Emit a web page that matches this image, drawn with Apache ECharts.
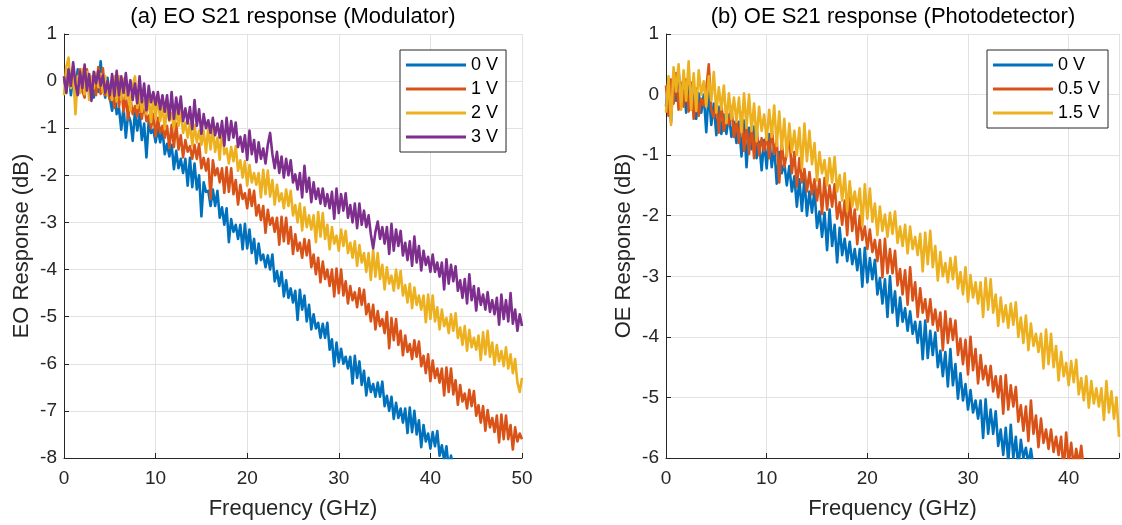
<!DOCTYPE html>
<html>
<head>
<meta charset="utf-8">
<script src="https://cdn.jsdelivr.net/npm/echarts@6/dist/echarts.min.js"></script>
<style>
html,body{margin:0;padding:0;background:#fff;}
#chart{width:1122px;height:525px;}
</style>
</head>
<body>
<div id="chart"></div>
<script>
// Frequency sampling step (GHz) of every trace
const FREQ_STEP = 0.25;

// Tick values
const eoXTicks = [0, 10, 20, 30, 40, 50];
const eoYTicks = [1, 0, -1, -2, -3, -4, -5, -6, -7, -8];
const oeXTicks = [0, 10, 20, 30, 40];
const oeYTicks = [1, 0, -1, -2, -3, -4, -5, -6];

// (a) EO S21 response (Modulator), dB, from 0 GHz every 0.25 GHz
const eoNames = ['0 V', '1 V', '2 V', '3 V'];
const eo0V = [0.05,-0.2,0.25,-0.3,0.1,-0.15,0.25,-0.25,0.1,
-0.2,0.1,-0.2,0.03,-0.35,0.15,-0.23,0.42,
-0.1,-0.35,0.07,-0.35,-0.63,-0.2,-0.7,-0.57,
-1.03,-0.55,-1.2,-0.7,-0.85,-1.27,-0.63,-1.05,
-0.7,-1.25,-0.9,-1.62,-0.85,-1.1,-1.03,-1.3,
-1.0,-1.3,-1.03,-1.55,-1.33,-1.6,-1.35,-1.87,
-1.48,-1.85,-1.65,-1.95,-1.65,-2.22,-1.63,-2.25,
-1.75,-2.3,-2.0,-2.87,-2.15,-2.35,-2.33,-2.65,
-2.3,-2.65,-2.33,-2.9,-2.68,-3.05,-2.7,-3.42,
-2.93,-3.2,-3.05,-3.35,-3.05,-3.57,-3.03,-3.55,
-3.15,-3.65,-3.35,-3.87,-3.45,-3.8,-3.68,-3.95,
-3.7,-4.0,-3.68,-4.25,-4.03,-4.35,-4.05,-4.57,
-4.23,-4.6,-4.4,-4.7,-4.45,-5.07,-4.43,-4.85,
-4.55,-5.1,-4.75,-5.27,-4.95,-5.25,-5.13,-5.45,
-5.15,-5.45,-5.13,-5.7,-5.48,-6.05,-5.55,-5.97,
-5.68,-6.0,-5.85,-6.1,-5.85,-6.42,-5.83,-6.3,
-5.95,-6.45,-6.15,-6.67,-6.3,-6.6,-6.43,-6.7,
-6.4,-6.7,-6.38,-6.9,-6.68,-7.0,-6.7,-7.17,
-6.83,-7.15,-6.95,-7.25,-6.95,-7.47,-6.93,-7.45,
-7.0,-7.5,-7.2,-7.77,-7.3,-7.65,-7.48,-7.8,
-7.45,-7.75,-7.43,-7.95,-7.73,-8.05,-7.75,-8.22,
-7.95,-8.2];
const eo1V = [0.1,-0.25,0.2,-0.1,0.3,-0.3,0.05,0.25,-0.2,
-0.35,0.25,-0.13,0.05,0.12,-0.3,0.3,-0.27,
0.27,-0.3,-0.15,-0.4,0.0,-0.57,-0.08,-0.55,
-0.1,-0.65,-0.3,-0.82,-0.35,-0.7,-0.53,-0.75,
-0.45,-0.8,-0.43,-0.85,-0.73,-1.0,-0.7,-1.17,
-0.78,-1.1,-0.95,-1.2,-0.95,-1.42,-0.93,-1.4,
-0.9,-1.45,-1.15,-1.62,-1.25,-1.5,-1.38,-1.65,
-1.35,-1.65,-1.33,-1.85,-1.63,-1.9,-1.65,-2.5,
-1.68,-2.0,-1.85,-2.15,-1.85,-2.37,-1.83,-2.35,
-1.85,-2.4,-2.1,-2.62,-2.2,-2.5,-2.38,-2.7,
-2.3,-2.65,-2.33,-2.85,-2.63,-2.95,-2.65,-3.22,
-2.73,-3.05,-2.9,-3.2,-2.9,-3.47,-2.88,-3.4,
-2.9,-3.45,-3.1,-3.67,-3.25,-3.6,-3.43,-3.75,
-3.35,-3.7,-3.38,-3.95,-3.68,-4.1,-3.75,-4.27,
-3.83,-4.2,-4.0,-4.35,-4.0,-4.57,-3.98,-4.5,
-4.0,-4.55,-4.25,-4.72,-4.35,-4.65,-4.48,-4.8,
-4.4,-4.75,-4.43,-4.95,-4.73,-5.1,-4.75,-5.27,
-4.88,-5.2,-5.05,-5.35,-4.9,-5.67,-5.03,-5.5,
-5.05,-5.6,-5.3,-5.82,-5.4,-5.75,-5.58,-5.9,
-5.5,-5.85,-5.53,-6.05,-5.83,-6.2,-5.8,-6.37,
-5.93,-6.3,-6.1,-6.4,-6.1,-6.67,-6.08,-6.6,
-6.1,-6.65,-6.35,-6.87,-6.45,-6.8,-6.63,-6.95,
-6.55,-6.9,-6.58,-7.1,-6.88,-7.25,-6.9,-7.42,
-6.98,-7.35,-7.15,-7.45,-7.1,-7.67,-7.08,-7.6,
-7.1,-7.6,-7.3,-7.82,-7.35,-7.65,-7.48,-7.6];
const eo2V = [-0.3,0.3,0.5,-0.15,0.2,-0.7,0.1,-0.25,0.25,
-0.28,0.2,-0.4,0.1,-0.15,0.18,-0.13,0.15,
-0.25,0.1,-0.3,-0.07,-0.4,0.1,-0.43,0.1,
-0.4,0.05,-0.38,-0.15,-0.63,-0.1,0.1,-0.57,
-0.28,-0.65,-0.4,-0.7,-0.35,-0.87,-0.28,-0.8,
-0.3,-0.85,-0.5,-1.02,-0.55,-0.85,-0.68,-1.0,
-0.6,-0.95,-0.63,-1.1,-0.88,-1.2,-0.9,-1.37,
-0.93,-1.3,-1.05,-1.35,-1.05,-1.52,-0.98,-1.45,
-1.0,-1.5,-1.2,-1.67,-0.95,-1.55,-1.43,-1.75,
-1.4,-1.7,-1.38,-1.9,-1.68,-2.05,-1.7,-2.22,
-1.78,-2.15,-1.95,-2.2,-1.95,-2.47,-1.88,-2.4,
-1.9,-2.45,-2.1,-2.62,-2.2,-2.55,-2.38,-2.7,
-2.3,-2.65,-2.33,-2.85,-2.63,-3.0,-2.6,-3.17,
-2.68,-3.1,-2.85,-3.15,-2.85,-3.42,-2.78,-3.3,
-2.8,-3.35,-3.05,-3.57,-3.1,-3.45,-3.28,-3.6,
-3.15,-3.5,-3.18,-3.65,-3.43,-3.75,-3.4,-3.92,
-3.48,-3.85,-3.65,-4.05,-3.65,-4.22,-3.58,-4.15,
-3.65,-4.2,-3.9,-4.42,-3.95,-4.3,-4.13,-4.45,
-4.0,-4.4,-4.03,-4.55,-4.33,-4.7,-4.3,-4.82,
-4.38,-4.75,-4.55,-4.85,-4.55,-5.12,-4.53,-5.05,
-4.55,-5.1,-4.8,-5.27,-4.85,-5.2,-5.03,-5.35,
-4.95,-5.3,-4.93,-5.45,-5.23,-5.6,-5.2,-5.72,
-5.28,-5.65,-5.45,-5.7,-5.4,-5.92,-5.33,-5.8,
-5.3,-5.85,-5.55,-6.02,-5.6,-5.95,-5.73,-6.05,
-5.65,-6.1,-5.8,-6.2,-5.9,-6.4,-6.6,-6.3];
const eo3V = [0.1,-0.25,0.25,-0.1,0.4,-0.05,-0.3,0.2,-0.15,
0.35,-0.2,0.15,-0.42,0.2,-0.05,0.22,-0.1,
0.12,-0.25,0.0,-0.3,0.15,-0.32,0.22,-0.3,
0.1,-0.25,0.17,-0.3,0.02,-0.4,-0.05,-0.47,
0.1,-0.45,-0.05,-0.62,-0.1,-0.45,-0.23,-0.5,
-0.23,-0.6,-0.3,-0.65,-0.3,-0.82,-0.23,-0.8,
-0.35,-0.7,-0.33,-0.85,-0.58,-0.9,-0.55,-1.02,
-0.4,-0.95,-0.6,-1.12,-0.7,-1.0,-0.83,-1.1,
-0.78,-1.15,-0.9,-1.2,-0.85,-1.37,-0.78,-1.25,
-0.85,-1.2,-0.88,-1.4,-1.18,-1.5,-1.15,-1.67,
-1.05,-1.55,-1.25,-1.72,-1.3,-1.65,-1.43,-1.75,
-1.35,-1.1,-1.55,-1.85,-1.5,-1.95,-1.6,-2.05,
-1.65,-2.0,-1.68,-2.15,-1.98,-2.3,-1.95,-2.47,
-1.8,-2.35,-2.05,-2.57,-2.15,-2.5,-2.28,-2.6,
-2.28,-2.65,-2.4,-2.7,-2.35,-2.92,-2.28,-2.8,
-2.4,-2.75,-2.38,-2.9,-2.63,-3.0,-2.6,-3.12,
-2.6,-3.05,-2.75,-3.1,-2.85,-3.25,-3.55,-3.2,
-2.98,-3.35,-3.1,-3.45,-3.1,-3.67,-3.03,-3.6,
-3.15,-3.5,-3.18,-3.7,-3.43,-3.8,-3.4,-3.92,
-3.3,-3.85,-3.5,-4.02,-3.6,-3.9,-3.73,-4.05,
-3.68,-4.05,-3.85,-4.15,-3.85,-4.42,-3.78,-4.3,
-3.9,-4.25,-3.93,-4.45,-4.23,-4.6,-4.2,-4.72,
-4.1,-4.65,-4.35,-4.87,-4.4,-4.75,-4.53,-4.85,
-4.48,-4.9,-4.65,-4.95,-4.6,-5.17,-4.53,-5.05,
-4.65,-5.1,-4.5,-5.15,-4.85,-5.3,-4.95,-5.2];

// (b) OE S21 response (Photodetector), dB, from 0 GHz every 0.25 GHz
const oeNames = ['0 V', '0.5 V', '1.5 V'];
const oe0V = [-0.2,0.25,-0.45,0.35,-0.1,0.4,-0.2,0.25,-0.3,
0.15,-0.25,0.17,-0.4,0.02,-0.3,0.0,-0.62,
0.05,-0.5,-0.15,-0.67,-0.2,-0.65,-0.33,-0.65,
-0.33,-0.7,-0.45,-0.8,-0.45,-1.02,-0.43,-1.2,
-0.55,-0.9,-0.53,-1.05,-0.78,-1.25,-0.75,-1.22,
-0.65,-1.2,-0.85,-1.47,-0.95,-1.3,-1.13,-1.5,
-1.18,-1.6,-1.35,-1.85,-1.4,-1.92,-1.38,-2.0,
-1.6,-1.95,-1.58,-2.2,-1.93,-2.35,-1.95,-2.57,
-1.9,-2.5,-2.15,-2.77,-2.2,-2.65,-2.38,-2.75,
-2.43,-2.8,-2.55,-2.9,-2.55,-3.17,-2.53,-3.1,
-2.7,-3.05,-2.73,-3.3,-3.03,-3.45,-3.05,-3.67,
-3.0,-3.6,-3.25,-3.82,-3.35,-3.75,-3.53,-3.9,
-3.58,-3.95,-3.75,-4.1,-3.75,-4.37,-3.73,-4.35,
-3.9,-4.3,-3.93,-4.5,-4.23,-4.65,-4.25,-4.82,
-4.2,-4.8,-4.45,-5.02,-4.6,-5.05,-4.78,-5.2,
-4.88,-5.25,-5.05,-5.35,-5.05,-5.67,-5.03,-5.6,
-5.2,-5.6,-5.23,-5.8,-5.53,-5.95,-5.5,-6.07,
-5.45,-6.0,-5.65,-6.17,-5.7,-6.0,-5.83,-6.1,
-5.85,-6.15];
const oe05V = [0.15,-0.35,0.25,-0.15,0.35,-0.25,0.2,-0.2,0.25,
-0.28,0.2,-0.4,0.1,-0.35,-0.07,-0.18,0.1,
0.5,-0.25,-0.38,-0.1,-0.63,-0.15,-0.6,-0.37,
-0.5,-0.2,-0.7,-0.42,-0.8,-0.3,-0.93,-0.5,
-0.98,-0.5,-1.05,-0.55,-1.0,-0.72,-0.93,-0.65,
-1.05,-0.55,-0.98,-0.75,-1.45,-0.8,-1.2,-0.97,
-0.65,-1.3,-0.95,-1.52,-1.05,-1.45,-1.23,-1.6,
-1.28,-1.65,-1.4,-1.75,-1.4,-1.97,-1.38,-1.9,
-1.5,-1.85,-1.48,-2.05,-1.78,-2.15,-1.75,-2.32,
-1.7,-2.25,-1.9,-2.47,-2.0,-2.4,-2.18,-2.55,
-2.23,-2.6,-2.4,-2.75,-2.4,-3.02,-2.38,-2.95,
-2.55,-2.95,-2.58,-3.15,-2.88,-3.3,-2.9,-3.47,
-2.85,-3.4,-3.1,-3.67,-3.2,-3.6,-3.38,-3.75,
-3.38,-3.8,-3.55,-3.9,-3.6,-4.22,-3.58,-4.1,
-3.7,-4.05,-3.73,-4.3,-4.03,-4.45,-4.05,-4.62,
-4.0,-4.55,-4.2,-4.77,-4.3,-4.7,-4.48,-4.8,
-4.48,-4.9,-4.65,-5.0,-4.65,-5.27,-4.63,-5.2,
-4.8,-5.15,-4.83,-5.4,-5.13,-5.55,-5.15,-5.72,
-5.05,-5.6,-5.3,-5.82,-5.35,-5.75,-5.53,-5.85,
-5.53,-5.9,-5.65,-5.95,-5.65,-6.22,-5.58,-6.1,
-5.75,-6.15,-5.85,-6.1,-5.8,-6.2,-6.25];
const oe15V = [-0.3,0.3,-0.5,0.45,0.05,0.5,-0.25,0.4,-0.1,
0.55,-0.25,0.35,-0.27,0.4,0.0,0.22,-0.2,
0.3,-0.1,0.37,-0.3,0.12,-0.25,0.15,-0.47,
0.02,-0.4,-0.05,-0.45,-0.05,-0.62,0.02,-0.55,
0.0,-0.6,-0.15,-0.77,-0.2,-0.6,-0.33,-0.75,
-0.25,-0.7,-0.18,-0.85,-0.28,-0.9,-0.4,-1.02,
-0.48,-0.95,-0.6,-1.0,-0.55,-1.22,-0.48,-1.1,
-0.6,-1.15,-0.8,-1.42,-0.95,-1.3,-1.08,-1.5,
-1.05,-1.45,-1.03,-1.6,-1.33,-1.75,-1.3,-1.92,
-1.43,-1.85,-1.6,-1.9,-1.55,-2.17,-1.48,-2.05,
-1.55,-2.1,-1.8,-2.32,-1.85,-2.25,-1.98,-2.35,
-1.95,-2.3,-1.93,-2.45,-2.18,-2.5,-2.15,-2.62,
-2.18,-2.55,-2.35,-2.65,-2.3,-2.92,-2.28,-2.8,
-2.25,-2.85,-2.5,-3.07,-2.6,-3.0,-2.78,-3.1,
-2.7,-3.05,-2.68,-3.2,-2.93,-3.3,-2.85,-3.42,
-2.98,-3.35,-3.1,-3.45,-3.1,-3.67,-3.03,-3.55,
-3.05,-3.6,-3.3,-3.82,-3.35,-3.75,-3.48,-3.85,
-3.45,-3.8,-3.43,-4.0,-3.68,-4.1,-3.65,-4.22,
-3.78,-4.15,-3.95,-4.25,-3.95,-4.52,-3.88,-4.45,
-3.95,-4.5,-4.15,-4.72,-4.25,-4.65,-4.43,-4.8,
-4.4,-4.75,-4.38,-4.95,-4.68,-5.05,-4.65,-5.17,
-4.73,-5.1,-4.85,-5.15,-4.85,-5.37,-4.73,-5.25,
-4.9,-5.35,-5.0,-5.65];

// Styling
const FONT = "'Liberation Sans', Arial, Helvetica, sans-serif";
const AX = '#262626';
const GRIDC = '#e2e2e2';
const C_BLUE = '#0072BD', C_RED = '#D95319', C_YEL = '#EDB120', C_PUR = '#7E2F8E';

function mkSeries(name, ys, color, idx) {
  return {
    name: name, type: 'line', xAxisIndex: idx, yAxisIndex: idx,
    data: ys.map((v, i) => [i * FREQ_STEP, v]),
    symbol: 'none', showSymbol: false, clip: true, animation: false,
    lineStyle: { width: 2.6, color: color, join: 'round' }, itemStyle: { color: color },
    emphasis: { disabled: true }
  };
}

function xAx(idx, max, ticks) {
  return {
    type: 'value', gridIndex: idx, min: ticks[0], max: max, interval: ticks[1] - ticks[0],
    name: 'Frequency (GHz)', nameLocation: 'middle', nameGap: 40,
    nameTextStyle: { fontSize: 22, color: AX, fontFamily: FONT },
    axisLine: { show: true, onZero: false, lineStyle: { color: AX, width: 1 } },
    axisTick: { show: true, inside: true, length: 5, lineStyle: { color: AX } },
    axisLabel: { fontSize: 19, color: AX, fontFamily: FONT, margin: 11,
      formatter: v => ticks.indexOf(v) >= 0 ? String(v) : '' },
    splitLine: { show: true, lineStyle: { color: GRIDC, width: 1 } }
  };
}
function yAx(idx, ticks, name) {
  const mn = ticks[ticks.length - 1], mx = ticks[0];
  return {
    type: 'value', gridIndex: idx, min: mn, max: mx, interval: 1,
    name: name, nameLocation: 'middle', nameGap: 31, nameRotate: 90,
    nameTextStyle: { fontSize: 22, color: AX, fontFamily: FONT },
    axisLine: { show: true, onZero: false, lineStyle: { color: AX, width: 1 } },
    axisTick: { show: true, inside: true, length: 5, lineStyle: { color: AX } },
    axisLabel: { fontSize: 19, color: AX, fontFamily: FONT, margin: 7 },
    splitLine: { show: true, lineStyle: { color: GRIDC, width: 1 } }
  };
}
function legend(left, names) {
  return {
    orient: 'vertical', left: left, top: 50, data: names,
    icon: 'rect', itemWidth: 60, itemHeight: 3, itemGap: 0,
    padding: [3, 8, 3, 6], borderColor: AX, borderWidth: 1, backgroundColor: '#fff',
    textStyle: { fontSize: 18, color: '#000', fontFamily: FONT, lineHeight: 24 },
    selectedMode: false
  };
}

const chart = echarts.init(document.getElementById('chart'), null, { renderer: 'canvas' });
chart.setOption({
  backgroundColor: '#fff',
  animation: false,
  title: [
    { text: '(a) EO S21 response (Modulator)', left: 293, top: 6, padding: 0, textAlign: 'center',
      textStyle: { fontSize: 22, fontWeight: 'normal', color: '#000', fontFamily: FONT } },
    { text: '(b) OE S21 response (Photodetector)', left: 893, top: 6, padding: 0, textAlign: 'center',
      textStyle: { fontSize: 22, fontWeight: 'normal', color: '#000', fontFamily: FONT } }
  ],
  legend: [legend(400, eoNames), legend(987, oeNames)],
  grid: [
    { left: 64, top: 34, width: 458, height: 426, containLabel: false },
    { left: 666, top: 34, width: 455, height: 426, containLabel: false }
  ],
  xAxis: [xAx(0, 50, eoXTicks), xAx(1, 45, oeXTicks)],
  yAxis: [yAx(0, eoYTicks, 'EO Response (dB)'), yAx(1, oeYTicks, 'OE Response (dB)')],
  series: [
    mkSeries(eoNames[0], eo0V, C_BLUE, 0),
    mkSeries(eoNames[1], eo1V, C_RED, 0),
    mkSeries(eoNames[2], eo2V, C_YEL, 0),
    mkSeries(eoNames[3], eo3V, C_PUR, 0),
    mkSeries(oeNames[0], oe0V, C_BLUE, 1),
    mkSeries(oeNames[1], oe05V, C_RED, 1),
    mkSeries(oeNames[2], oe15V, C_YEL, 1)
  ]
});
</script>
</body>
</html>
